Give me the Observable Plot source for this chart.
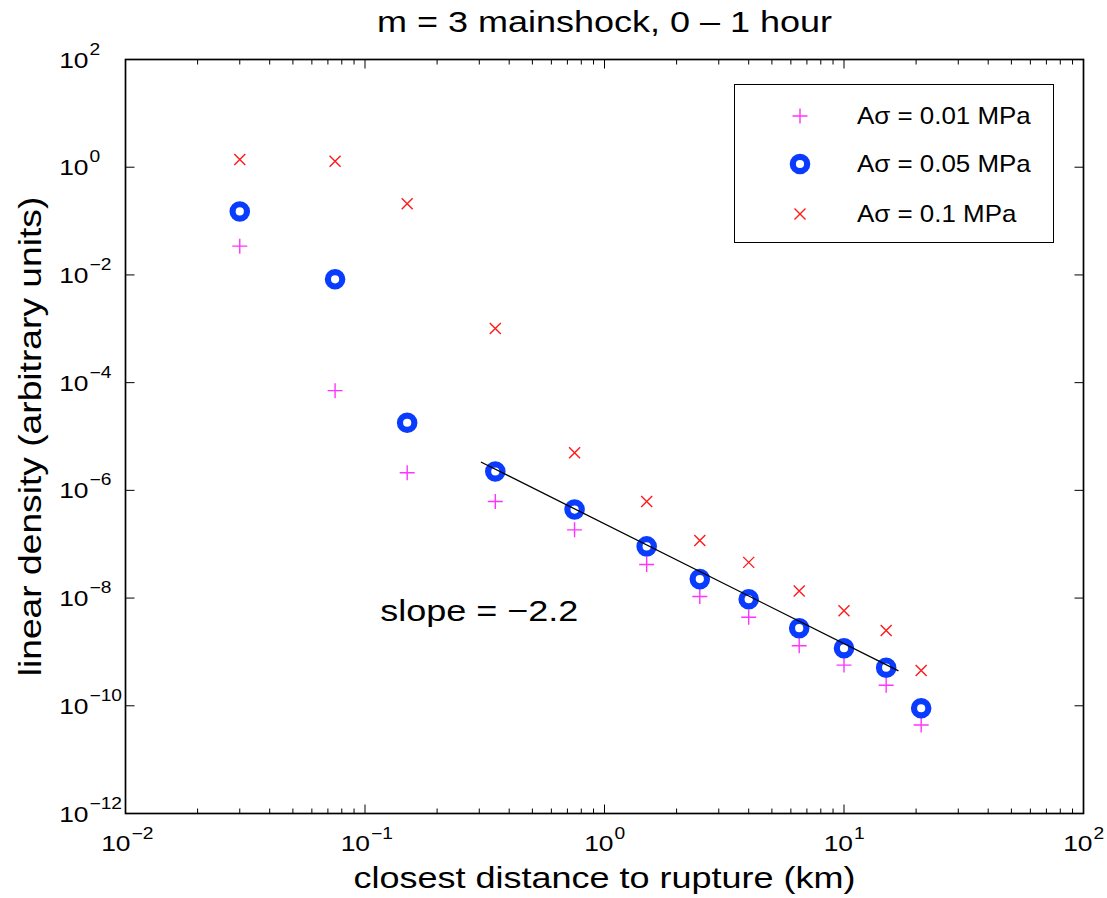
<!DOCTYPE html>
<html>
<head>
<meta charset="utf-8">
<script src="https://cdn.jsdelivr.net/npm/d3@7"></script>
<script src="https://cdn.jsdelivr.net/npm/@observablehq/plot@0.6"></script>
<style>
html, body { margin: 0; padding: 0; background: #fff; }
#wrap { position: relative; width: 1107px; height: 898px; font-family: "Liberation Sans", Arial, Helvetica, sans-serif; }
#legend { position: absolute; left: 734px; top: 84px; width: 318px; height: 157px; border: 1.5px solid #000; background: #fff; }
.lsym { position: absolute; left: 50px; width: 30px; height: 30px; }
.ltxt { position: absolute; left: 122px; font-size: 24px; line-height: 28px; white-space: nowrap; transform: scaleX(1.08); transform-origin: left center; color: #000; }
</style>
</head>
<body>
<div id="wrap"></div>
<script>
// ---- data ----
const distance = [0.03, 0.075, 0.15, 0.35, 0.75, 1.5, 2.5, 4, 6.5, 10, 15, 21];
const dens001 = [0.0342, 7.1e-5, 2.12e-6, 6.2e-7, 1.85e-7, 4.2e-8, 1.07e-8, 4.4e-9, 1.3e-9, 5.7e-10, 2.4e-10, 4.4e-11];
const dens005 = [0.151, 8.3e-3, 1.8e-5, 2.24e-6, 4.4e-7, 9.1e-8, 2.25e-8, 9.5e-9, 2.76e-9, 1.17e-9, 5.1e-10, 9.0e-11];
const dens01  = [1.39, 1.29, 0.209, 1.01e-3, 4.99e-6, 6.2e-7, 1.17e-7, 4.6e-8, 1.35e-8, 5.8e-9, 2.5e-9, 4.5e-10];
const fitX = [0.306, 16.8];
const fitY = [3.33e-6, 4.5e-10];
const slopeLabel = "slope = \u22122.2";
const slopeX = 0.3, slopeY = 5.6e-9;
const titleText = "m = 3 mainshock, 0 \u2013 1 hour";
const xLabel = "closest distance to rupture (km)";
const yLabel = "linear density (arbitrary units)";
const seriesNames = ["A\u03c3 = 0.01 MPa", "A\u03c3 = 0.05 MPa", "A\u03c3 = 0.1 MPa"];
const xTickExps = [-2, -1, 0, 1, 2];
const yTickExps = [-12, -10, -8, -6, -4, -2, 0, 2];

const colPlus = "#ff33ff", colCircle = "#0a3cff", colTimes = "#ff1a1a";

// ---- derived tables ----
const rows001 = distance.map((d, i) => ({x: d, y: dens001[i]}));
const rows005 = distance.map((d, i) => ({x: d, y: dens005[i]}));
const rows01  = distance.map((d, i) => ({x: d, y: dens01[i]}));
const fitRows = fitX.map((d, i) => ({x: d, y: fitY[i]}));
const xMajor = xTickExps.map(e => Math.pow(10, e));
const xMinor = [];
for (let e = -2; e < 2; e++) for (let k = 2; k <= 9; k++) xMinor.push(k * Math.pow(10, e));
const yMajor = yTickExps.map(e => Math.pow(10, e));
const sup = e => (e < 0 ? "\u2212" : "") + Math.abs(e);

// custom symbols
const tickSym = (len, dir) => ({draw(ctx) {
  ctx.moveTo(0, 0);
  if (dir === "up") ctx.lineTo(0, -len);
  else if (dir === "down") ctx.lineTo(0, len);
  else if (dir === "right") ctx.lineTo(len, 0);
  else ctx.lineTo(-len, 0);
}});
const plusSym = {draw(ctx) { const r = 7.5; ctx.moveTo(-r, 0); ctx.lineTo(r, 0); ctx.moveTo(0, -r); ctx.lineTo(0, r); }};
const timesSym = {draw(ctx) { const r = 5.5; ctx.moveTo(-r, -r); ctx.lineTo(r, r); ctx.moveTo(-r, r); ctx.lineTo(r, -r); }};
const circR = 7.2, circW = 6.2;

const xNeg = xTickExps.filter(e => e < 0), xPos = xTickExps.filter(e => e >= 0);

const chart = Plot.plot({
  width: 1107,
  height: 898,
  marginLeft: 125, marginRight: 24, marginTop: 59, marginBottom: 85,
  x: {type: "log", domain: [1e-2, 1e2], axis: null},
  y: {type: "log", domain: [1e-12, 1e2], axis: null},
  style: {fontFamily: "'Liberation Sans', Arial, Helvetica, sans-serif", background: "white", color: "black"},
  marks: [
    // ticks (inward, mirrored)
    Plot.dot(xMajor, {x: d => d, frameAnchor: "bottom", symbol: tickSym(9, "up"), stroke: "black", strokeWidth: 1}),
    Plot.dot(xMajor, {x: d => d, frameAnchor: "top", symbol: tickSym(9, "down"), stroke: "black", strokeWidth: 1}),
    Plot.dot(xMinor, {x: d => d, frameAnchor: "bottom", symbol: tickSym(5, "up"), stroke: "black", strokeWidth: 1}),
    Plot.dot(xMinor, {x: d => d, frameAnchor: "top", symbol: tickSym(5, "down"), stroke: "black", strokeWidth: 1}),
    Plot.dot(yMajor, {y: d => d, frameAnchor: "left", symbol: tickSym(9, "right"), stroke: "black", strokeWidth: 1}),
    Plot.dot(yMajor, {y: d => d, frameAnchor: "right", symbol: tickSym(9, "left"), stroke: "black", strokeWidth: 1}),
    Plot.frame({stroke: "black", strokeWidth: 1.7}),
    // x tick labels
    Plot.text(xNeg, {x: e => Math.pow(10, e), frameAnchor: "bottom", lineAnchor: "middle", text: () => "10", textAnchor: "end", dx: 5, dy: 30, fontSize: 22}),
    Plot.text(xNeg, {x: e => Math.pow(10, e), frameAnchor: "bottom", lineAnchor: "middle", text: e => sup(e), textAnchor: "start", dx: 6, dy: 20, fontSize: 16}),
    Plot.text(xPos, {x: e => Math.pow(10, e), frameAnchor: "bottom", lineAnchor: "middle", text: () => "10", textAnchor: "end", dx: 9, dy: 30, fontSize: 22}),
    Plot.text(xPos, {x: e => Math.pow(10, e), frameAnchor: "bottom", lineAnchor: "middle", text: e => sup(e), textAnchor: "start", dx: 10, dy: 20, fontSize: 16}),
    // y tick labels
    Plot.text(yTickExps, {y: e => Math.pow(10, e), frameAnchor: "left", lineAnchor: "middle", text: () => "10", textAnchor: "end", dx: -37, dy: 1, fontSize: 22}),
    Plot.text(yTickExps, {y: e => Math.pow(10, e), frameAnchor: "left", lineAnchor: "middle", text: e => sup(e), textAnchor: "start", dx: -36, dy: -10, fontSize: 16}),
    // data
    Plot.dot(rows001, {x: "x", y: "y", symbol: plusSym, stroke: colPlus, strokeWidth: 1.4, fill: "none"}),
    Plot.dot(rows005, {x: "x", y: "y", r: circR, stroke: colCircle, strokeWidth: circW, fill: "none"}),
    Plot.dot(rows01, {x: "x", y: "y", symbol: timesSym, stroke: colTimes, strokeWidth: 1.4, fill: "none"}),
    Plot.line(fitRows, {x: "x", y: "y", stroke: "black", strokeWidth: 1.3}),
    Plot.text([slopeLabel], {x: () => slopeX, y: () => slopeY, text: d => d, fontSize: 30}),
    // titles
    Plot.text([titleText], {frameAnchor: "top", lineAnchor: "middle", textAnchor: "middle", text: d => d, dy: -37, fontSize: 30}),
    Plot.text([xLabel], {frameAnchor: "bottom", lineAnchor: "middle", textAnchor: "middle", text: d => d, dy: 65, fontSize: 30}),
    Plot.text([yLabel], {frameAnchor: "left", lineAnchor: "middle", textAnchor: "middle", text: d => d, rotate: -90, dx: -94, fontSize: 31})
  ]
});

// widen glyphs horizontally to match the reference's stretched type
chart.querySelectorAll("text").forEach(t => {
  const tr = t.getAttribute("transform");
  if (tr) t.setAttribute("transform", tr + " scale(1.2,1)");
  else {
    const x = +t.getAttribute("x") || 0, y = +t.getAttribute("y") || 0;
    t.removeAttribute("x"); t.removeAttribute("y");
    t.setAttribute("transform", `translate(${x},${y}) scale(1.2,1)`);
  }
});

const wrap = document.getElementById("wrap");
wrap.appendChild(chart);

// legend
const legend = d3.select(wrap).append("div").attr("id", "legend");
const entryY = [31, 79, 129];
const pathOf = sym => { const p = d3.path(); sym.draw(p); return p.toString(); };
const symDraw = [
  g => g.append("path").attr("d", pathOf(plusSym)).attr("stroke", colPlus).attr("stroke-width", 1.4).attr("fill", "none"),
  g => g.append("circle").attr("r", circR).attr("stroke", colCircle).attr("stroke-width", circW).attr("fill", "none"),
  g => g.append("path").attr("d", pathOf(timesSym)).attr("stroke", colTimes).attr("stroke-width", 1.4).attr("fill", "none")
];
seriesNames.forEach((name, i) => {
  const svg = legend.append("svg").attr("class", "lsym").style("top", (entryY[i] - 15) + "px")
    .attr("width", 30).attr("height", 30).attr("viewBox", "-15 -15 30 30");
  symDraw[i](svg);
  legend.append("div").attr("class", "ltxt").style("top", (entryY[i] - 14) + "px").text(name);
});
</script>
</body>
</html>
